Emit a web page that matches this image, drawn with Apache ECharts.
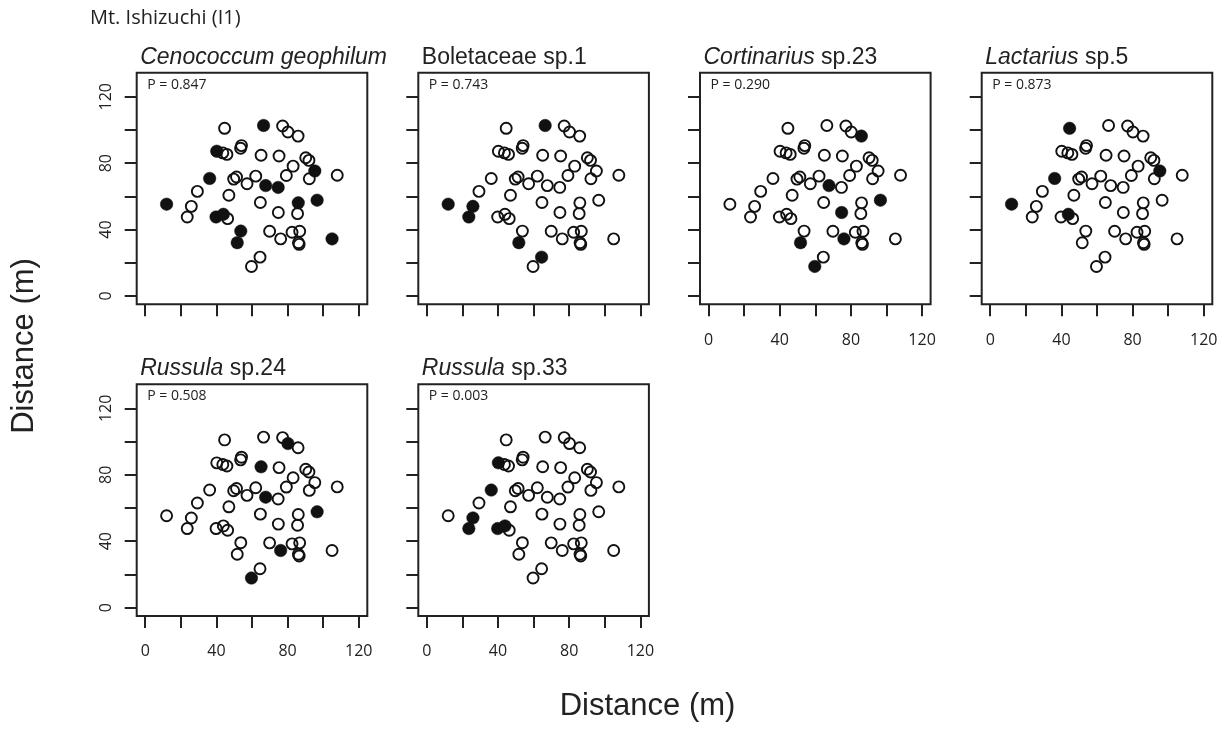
<!DOCTYPE html>
<html><head><meta charset="utf-8">
<script src="https://cdn.jsdelivr.net/npm/echarts@6/dist/echarts.min.js"></script>
<style>html,body{margin:0;padding:0;background:#fff}#c{width:1228px;height:738px}</style>
</head><body><div id="c"></div>
<script>
// Sampling locations (m)
const siteX = [12.0,25.9,23.6,29.3,36.2,44.6,40.2,43.6,45.9,54.1,
               53.6,47.0,49.7,51.3,39.8,43.9,46.3,53.7,57.2,62.1,
               64.7,64.5,65.1,66.5,74.7,75.2,77.2,80.2,79.3,83.1,
               69.9,82.5,86.0,85.6,86.8,86.1,86.5,90.2,92.0,92.2,
               95.3,105.0,107.9,85.9,67.7,74.8,96.6,76.1,51.7,59.7];
const siteY = [55.3,54.0,47.6,63.0,70.8,101.0,87.2,86.2,85.3,90.6,
               89.0,60.7,70.4,71.7,47.6,49.2,46.6,39.1,67.6,72.2,
               56.3,23.4,84.8,102.7,65.4,84.3,102.4,98.8,72.6,78.2,
               39.0,38.4,56.1,49.6,39.0,32.1,31.1,83.3,81.7,70.6,
               75.3,34.4,72.7,96.3,66.5,50.3,57.7,34.4,32.1,17.8];
// Presence (1 = filled) per species
const presenceCenococcum = [1,0,0,0,1,0,1,0,0,0, 0,0,0,0,1,1,0,1,0,0, 0,0,0,1,1,0,0,0,0,0, 0,0,1,0,0,0,0,0,0,0, 1,1,0,0,1,0,1,0,1,0];
const presenceBoletaceae = [1,1,1,0,0,0,0,0,0,0, 0,0,0,0,0,0,0,0,0,0, 0,1,0,1,0,0,0,0,0,0, 0,0,0,0,0,0,0,0,0,0, 0,0,0,0,0,0,0,0,1,0];
const presenceCortinarius = [0,0,0,0,0,0,0,0,0,0, 0,0,0,0,0,0,0,0,0,0, 0,0,0,0,0,0,0,0,0,0, 0,0,0,0,0,0,0,0,0,0, 0,0,0,1,1,1,1,1,1,1];
const presenceLactarius = [1,0,0,0,1,1,0,0,0,0, 0,0,0,0,0,1,0,0,0,0, 0,0,0,0,0,0,0,0,0,0, 0,0,0,0,0,0,0,0,0,0, 1,0,0,0,0,0,0,0,0,0];
const presenceRussula24 = [0,0,0,0,0,0,0,0,0,0, 0,0,0,0,0,0,0,0,0,0, 0,0,1,0,0,0,0,1,0,0, 0,0,0,0,0,0,0,0,0,0, 0,0,0,0,1,0,1,1,0,1];
const presenceRussula33 = [0,1,1,0,1,0,1,0,0,0, 0,0,0,0,1,1,0,0,0,0, 0,0,0,0,0,0,0,0,0,0, 0,0,0,0,0,0,0,0,0,0, 0,0,0,0,0,0,0,0,0,0];
const genusNames = ['Cenococcum geophilum','','Cortinarius','Lactarius','Russula','Russula'];
const speciesSuffix = ['',' Boletaceae sp.1',' sp.23',' sp.5',' sp.24',' sp.33'];
const pValues = ['0.847','0.743','0.290','0.873','0.508','0.003'];
const tickValues = [0,20,40,60,80,100,120];
const labelValues = [0,40,80,120];
const mainTitle = 'Mt. Ishizuchi (I1)';
const axisTitle = 'Distance (m)';

const presence = [presenceCenococcum,presenceBoletaceae,presenceCortinarius,presenceLactarius,presenceRussula24,presenceRussula33];
const layout = [[136.7,72.7],[418.3,72.7],[700,72.7],[981.7,72.7],[136.7,384.3],[418.3,384.3]];
const W = 230.6, H = 231.6;
const showX = [false,false,true,true,true,true];
const showY = [true,false,false,false,true,false];
const ink = '#222';

const grid = [], xAxis = [], yAxis = [], series = [], title = [];
title.push({text: mainTitle, left: 90, top: 6.5, padding: 0,
  textStyle: {fontFamily: 'Open Sans', fontSize: 20, fontWeight: 'normal', color: ink, lineHeight: 24}});
layout.forEach(([l, t], i) => {
  grid.push({left: l, top: t, width: W, height: H, show: true, borderColor: ink, borderWidth: 2, backgroundColor: 'transparent'});
  xAxis.push({type: 'value', gridIndex: i, min: -4.8, max: 124.8,
    splitLine: {show: false}, axisLine: {show: false, onZero: false},
    axisTick: {show: true, inside: false, length: 12, customValues: tickValues, lineStyle: {color: ink, width: 2}},
    axisLabel: {show: showX[i], customValues: labelValues, margin: 28, fontFamily: 'Open Sans', fontSize: 16, color: ink}});
  yAxis.push({type: 'value', gridIndex: i, min: -5, max: 134.5,
    splitLine: {show: false}, axisLine: {show: false, onZero: false},
    axisTick: {show: true, inside: false, length: 12, customValues: tickValues, lineStyle: {color: ink, width: 2}},
    axisLabel: {show: showY[i], customValues: labelValues, rotate: 90, margin: 22, fontFamily: 'Open Sans', fontSize: 16, color: ink}});
  const openPts = [], filledPts = [];
  siteX.forEach((x, k) => { (presence[i][k] ? filledPts : openPts).push([x, siteY[k]]); });
  series.push({type: 'scatter', xAxisIndex: i, yAxisIndex: i, data: openPts, symbol: 'circle', symbolSize: 11,
    itemStyle: {color: 'rgba(255,255,255,0)', borderColor: '#111', borderWidth: 1.9, opacity: 1}, silent: true});
  series.push({type: 'scatter', xAxisIndex: i, yAxisIndex: i, data: filledPts, symbol: 'circle', symbolSize: 12.5,
    itemStyle: {color: '#111', borderColor: '#111', borderWidth: 0.5, opacity: 1}, silent: true});
  let txt;
  if (i === 1) txt = '{n|' + speciesSuffix[i].trim() + '}';
  else if (speciesSuffix[i] === '') txt = '{i|' + genusNames[i] + '}';
  else txt = '{i|' + genusNames[i] + '}{n|' + speciesSuffix[i] + '}';
  const base = {fontFamily: 'Liberation Sans', fontSize: 23, fontWeight: 'normal', color: ink, lineHeight: 27};
  title.push({text: txt, left: l + 3.5, top: t - 29, padding: 0,
    textStyle: {fontWeight: 'normal', rich: {i: Object.assign({fontStyle: 'italic'}, base), n: Object.assign({}, base)}}});
  title.push({text: 'P = ' + pValues[i], left: l + 10.5, top: t + 3.5, padding: 0,
    textStyle: {fontFamily: 'Open Sans', fontSize: 14, fontWeight: 'normal', color: ink, lineHeight: 17}});
});

const chart = echarts.init(document.getElementById('c'));
chart.setOption({
  animation: false,
  backgroundColor: '#fff',
  title, grid, xAxis, yAxis, series,
  graphic: [
    {type: 'text', x: 647.5, y: 706.8, silent: true,
     style: {text: axisTitle, fontFamily: 'Liberation Sans', fontSize: 31, fill: ink, align: 'center', verticalAlign: 'middle'}},
    {type: 'text', x: 24, y: 346, rotation: Math.PI / 2, silent: true,
     style: {text: axisTitle, fontFamily: 'Liberation Sans', fontSize: 31, fill: ink, align: 'center', verticalAlign: 'middle'}}
  ]
});
</script></body></html>
